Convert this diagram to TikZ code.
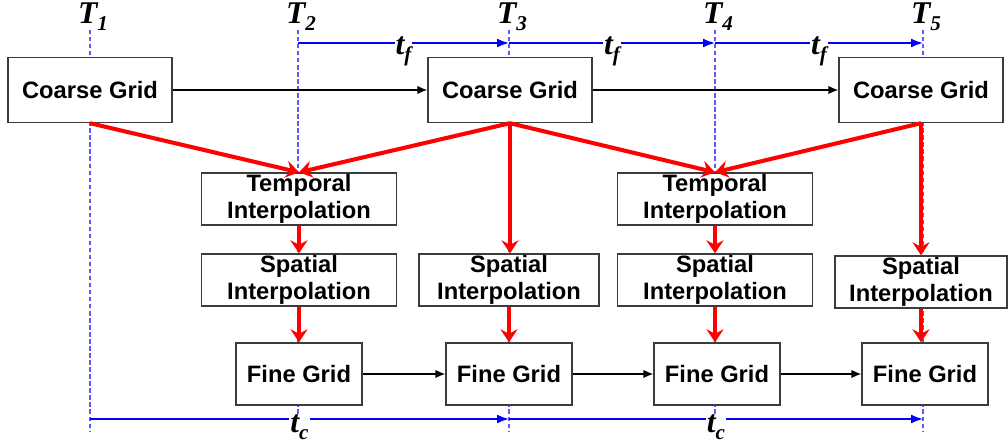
\documentclass[tikz,border=0pt]{standalone}
\usepackage{fontspec}
\setmainfont{Liberation Sans}
\newfontfamily\timesfont{Liberation Serif}
\usetikzlibrary{arrows.meta,positioning}
\definecolor{navyblue}{RGB}{0,0,255}
\definecolor{paleblue}{RGB}{90,90,255}
\definecolor{signal}{RGB}{255,0,0}
\definecolor{frame}{RGB}{60,60,60}
\newcommand{\tsym}[2]{{\timesfont\bfseries\itshape #1\raisebox{-4pt}{\fontsize{12}{12}\selectfont #2}}}
\tikzset{
  >={Latex[length=2mm,width=1.7mm]},
  block/.style={draw=frame,fill=white,line width=0.8pt,inner sep=1pt,
    minimum width=#1,align=center,font=\fontsize{13.5}{15}\selectfont\bfseries},
  block/.default=3.9cm,
  coarse/.style={block=3.28cm,minimum height=1.3cm},
  interp/.style={block=#1,minimum height=1cm},
  interp/.default=3.9cm,
  fine/.style={block=2.52cm,minimum height=1.24cm},
  timeline/.style={paleblue,line width=0.6pt,dash pattern=on 2.5pt off 1.5pt},
  span/.style={->,navyblue,line width=1pt,>={Latex[length=2.4mm,width=1.8mm]}},
  link/.style={->,black,line width=0.8pt},
  feed/.style={->,signal,line width=2.3pt,>={Stealth[length=2.6mm,width=3.4mm,inset=0.9mm]}},
  tlabel/.style={inner sep=0pt,font=\fontsize{18}{18}\selectfont},
  gap/.style={midway,fill=white,text=black,inner sep=0.6pt,yshift=-1.7mm,font=\fontsize{18}{18}\selectfont},
}
\begin{document}
\begin{tikzpicture}[x=0.02cm,y=-0.02cm]
  \useasboundingbox (0,0) rectangle (1008,445);
  % time instants
  \foreach \i/\x in {1/90,2/298,3/509,4/715,5/923}{
    \node[tlabel] (T\i) at (\x+3,17) {\tsym{T}{\i}};
    \coordinate (u\i) at (\x,30);
    \coordinate (d\i) at (\x,432);
    \coordinate (f\i) at (\x,43);
    \coordinate (c\i) at (\x,419);
    \draw[timeline] (u\i) -- (d\i);
  }
  \foreach \a/\b in {2/3,3/4,4/5}
    \draw[span] (f\a) -- node[gap] {\tsym{t}{f}} (f\b);
  \foreach \a/\b in {1/3,3/5}
    \draw[span] (c\a) -- node[gap] {\tsym{t}{c}} (c\b);

  % grids and interpolation steps
  \node[coarse] (cg1) at (90,90) {Coarse Grid};
  \node[coarse] (cg2) at (510,90) {Coarse Grid};
  \node[coarse] (cg3) at (921,90) {Coarse Grid};
  \node[interp] (ti1) at (299,199) {Temporal\\Interpolation};
  \node[interp] (ti2) at (715,199) {Temporal\\Interpolation};
  \node[interp] (si1) at (299,280) {Spatial\\Interpolation};
  \node[interp=3.6cm] (si2) at (509,280) {Spatial\\Interpolation};
  \node[interp] (si3) at (715,280) {Spatial\\Interpolation};
  \node[interp=3.44cm] (si4) at (921,282) {Spatial\\Interpolation};
  \node[fine] (fg1) at (299,374) {Fine Grid};
  \node[fine] (fg2) at (509,374) {Fine Grid};
  \node[fine] (fg3) at (717,374) {Fine Grid};
  \node[fine] (fg4) at (925,374) {Fine Grid};

  % connectors
  \draw[link] (cg1) -- (cg2);
  \draw[link] (cg2) -- (cg3);
  \foreach \a/\b in {1/2,2/3,3/4}
    \draw[link] (fg\a) -- (fg\b);
  \foreach \s/\t in {cg1/ti1,cg2/ti1,cg2/ti2,cg3/ti2}
    \draw[feed] (\s.south) -- (\t.north);
  \foreach \s/\t in {cg2/si2,cg3/si4,ti1/si1,ti2/si3,si1/fg1,si2/fg2,si3/fg3,si4/fg4}
    \draw[feed] (\s.south) -- (\s.south |- \t.north);
\end{tikzpicture}
\end{document}
